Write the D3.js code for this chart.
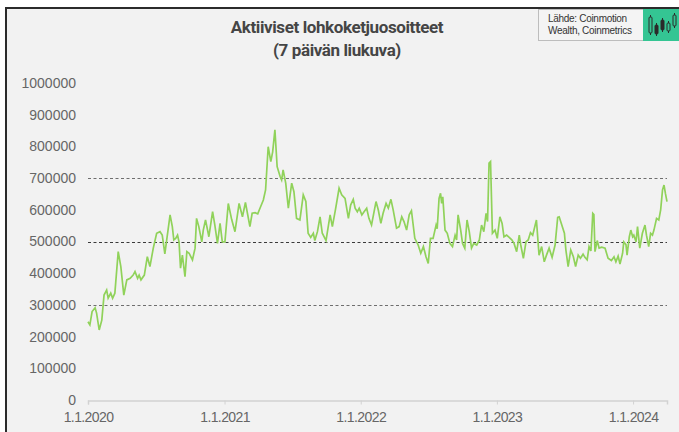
<!DOCTYPE html>
<html lang="fi">
<head>
    <meta charset="UTF-8">
    <title>Aktiiviset lohkoketjuosoitteet</title>
    <script src="https://d3js.org/d3.v7.min.js"></script>
    <style>
        body {
            margin: 0;
            background-color: #ffffff;
            font-family: "Liberation Sans", Arial, sans-serif;
        }
        svg {
            display: block;
        }
        .title {
            font-family: Roboto, "Liberation Sans", sans-serif;
            font-weight: bold;
            font-size: 17px;
            fill: #454545;
        }
        .tick text {
            font-size: 14px;
            fill: #666;
        }
        .line {
            fill: none;
            stroke: #90d25a;
            stroke-width: 1.7px;
        }
    </style>
</head>
<body>
    <svg width="679" height="432"></svg>
    <script>
        // aktiiviset osoitteet, 7 päivän liukuva keskiarvo (luettu kuvasta)
        const dates = [
            "2020-01-01","2020-01-06","2020-01-12","2020-01-20","2020-01-24","2020-01-31","2020-02-07","2020-02-13",
            "2020-02-20","2020-02-24","2020-03-02","2020-03-07","2020-03-13","2020-03-22","2020-03-29","2020-04-06",
            "2020-04-14","2020-04-23","2020-05-01","2020-05-06","2020-05-13","2020-05-17","2020-05-22","2020-05-31",
            "2020-06-08","2020-06-15","2020-06-24","2020-07-03","2020-07-12","2020-07-18","2020-07-25","2020-07-30",
            "2020-08-08","2020-08-14","2020-08-18","2020-08-23","2020-08-28","2020-09-01","2020-09-05","2020-09-10",
            "2020-09-17","2020-09-22","2020-09-28","2020-10-07","2020-10-14","2020-10-18","2020-10-24","2020-11-01",
            "2020-11-05","2020-11-11","2020-11-20","2020-11-30","2020-12-06","2020-12-13","2020-12-20","2020-12-26",
            "2021-01-02","2021-01-11","2021-01-20","2021-01-29","2021-02-09","2021-02-18","2021-02-26","2021-03-10",
            "2021-03-16","2021-03-24","2021-03-31","2021-04-06","2021-04-15","2021-04-21","2021-04-28","2021-05-05",
            "2021-05-10","2021-05-16","2021-05-22","2021-05-30","2021-06-03","2021-06-07","2021-06-14","2021-06-21",
            "2021-06-30","2021-07-06","2021-07-13","2021-07-22","2021-07-31","2021-08-07","2021-08-13","2021-08-20",
            "2021-08-27","2021-08-31","2021-09-07","2021-09-14","2021-09-20","2021-09-30","2021-10-11","2021-10-17",
            "2021-10-26","2021-11-04","2021-11-11","2021-11-20","2021-11-29","2021-12-05","2021-12-12","2021-12-17",
            "2021-12-23","2021-12-28","2022-01-04","2022-01-10","2022-01-17","2022-01-23","2022-01-30","2022-02-11",
            "2022-02-17","2022-02-24","2022-03-02","2022-03-10","2022-03-16","2022-03-23","2022-03-29","2022-04-07",
            "2022-04-14","2022-04-21","2022-04-27","2022-05-04","2022-05-11","2022-05-17","2022-05-26","2022-06-04",
            "2022-06-11","2022-06-18","2022-06-25","2022-07-01","2022-07-07","2022-07-14","2022-07-22","2022-07-25",
            "2022-07-30","2022-08-03","2022-08-06","2022-08-09","2022-08-15","2022-08-21","2022-08-28","2022-09-04",
            "2022-09-11","2022-09-15","2022-09-19","2022-09-26","2022-10-01","2022-10-07","2022-10-13","2022-10-19",
            "2022-10-25","2022-10-31","2022-11-08","2022-11-15","2022-11-21","2022-11-27","2022-12-03","2022-12-07",
            "2022-12-11","2022-12-15","2022-12-20","2022-12-27","2023-01-02","2023-01-09","2023-01-15","2023-01-20",
            "2023-01-27","2023-02-03","2023-02-10","2023-02-16","2023-02-23","2023-03-02","2023-03-06","2023-03-13",
            "2023-03-20","2023-03-26","2023-04-01","2023-04-07","2023-04-17","2023-04-24","2023-05-01","2023-05-08",
            "2023-05-14","2023-05-21","2023-05-29","2023-06-06","2023-06-13","2023-06-17","2023-06-24","2023-07-01",
            "2023-07-05","2023-07-11","2023-07-18","2023-07-25","2023-07-31","2023-08-07","2023-08-13","2023-08-20",
            "2023-08-25","2023-08-31","2023-09-05","2023-09-10","2023-09-15","2023-09-18","2023-09-21","2023-09-27",
            "2023-10-02","2023-10-09","2023-10-18","2023-10-26","2023-11-04","2023-11-11","2023-11-16","2023-11-22",
            "2023-11-27","2023-12-04","2023-12-07","2023-12-13","2023-12-16","2023-12-22","2023-12-26","2023-12-31",
            "2024-01-03","2024-01-09","2024-01-13","2024-01-19","2024-01-26","2024-02-02","2024-02-06","2024-02-12",
            "2024-02-17","2024-02-22","2024-02-26","2024-03-04","2024-03-10","2024-03-15","2024-03-20","2024-03-24",
            "2024-03-28","2024-04-01"
        ];
        const addresses = [
            247000,237000,279000,291000,274000,221000,252000,331000,
            347000,321000,337000,321000,337000,468000,421000,331000,
            379000,384000,394000,405000,384000,394000,379000,394000,
            452000,421000,479000,526000,531000,520000,461000,505000,
            584000,547000,505000,510000,520000,499000,416000,457000,
            389000,468000,463000,442000,479000,573000,547000,499000,
            536000,568000,515000,594000,552000,494000,557000,499000,
            499000,620000,570000,531000,620000,578000,623000,547000,
            589000,591000,587000,605000,631000,663000,799000,752000,
            783000,852000,736000,705000,694000,726000,684000,605000,
            684000,657000,573000,568000,647000,626000,526000,513000,
            526000,503000,531000,578000,526000,503000,584000,547000,
            605000,668000,647000,636000,573000,615000,633000,605000,
            594000,605000,584000,594000,605000,573000,552000,626000,
            600000,557000,589000,620000,605000,633000,600000,542000,
            547000,578000,563000,536000,584000,597000,510000,489000,
            463000,484000,452000,431000,510000,510000,552000,540000,
            636000,652000,620000,641000,536000,526000,494000,484000,
            520000,505000,584000,536000,494000,479000,568000,531000,
            479000,494000,489000,505000,552000,531000,589000,563000,
            747000,752000,526000,536000,510000,578000,557000,515000,
            520000,513000,505000,494000,468000,520000,489000,447000,
            499000,505000,528000,520000,568000,457000,484000,436000,
            457000,479000,450000,489000,576000,578000,552000,526000,
            473000,421000,473000,452000,421000,457000,447000,460000,
            450000,442000,484000,470000,589000,585000,468000,503000,
            479000,482000,479000,447000,440000,452000,436000,454000,
            429000,463000,499000,490000,457000,515000,536000,515000,
            520000,499000,547000,479000,526000,552000,520000,484000,
            526000,520000,536000,573000,568000,600000,663000,678000,
            650000,626000
        ];
        const yTicks = [0, 100000, 200000, 300000, 400000, 500000, 600000, 700000, 800000, 900000, 1000000];
        const gridValues = [300000, 500000, 700000];
        const xTickDates = ["2020-01-01", "2021-01-01", "2022-01-01", "2023-01-01", "2024-01-01"];
        const titleLines = ["Aktiiviset lohkoketjuosoitteet", "(7 päivän liukuva)"];
        const sourceLines = ["Lähde: Coinmotion", "Wealth, Coinmetrics"];

        const svg = d3.select("svg"),
            width = +svg.attr("width"),
            height = +svg.attr("height");

        const parse = d3.timeParse("%Y-%m-%d");
        const data = dates.map((d, i) => ({ date: parse(d), value: addresses[i] }));

        // tausta ja kehys
        svg.append("rect")
            .attr("x", 5).attr("y", 7)
            .attr("width", width - 5).attr("height", height - 7)
            .attr("fill", "#f2f2f2");
        svg.append("path")
            .attr("d", `M6,${height} V8 H${width}`)
            .attr("fill", "none")
            .attr("stroke", "#2b2b2b")
            .attr("stroke-width", 2);

        const x = d3.scaleTime()
            .domain([parse("2020-01-01"), parse("2024-04-01")])
            .range([88, 667]);
        const y = d3.scaleLinear()
            .domain([0, 1000000])
            .range([400, 83]);

        // katkoviivat
        svg.append("g")
            .selectAll("line")
            .data(gridValues)
            .enter().append("line")
            .attr("x1", 88)
            .attr("x2", 667)
            .attr("y1", d => Math.round(y(d)) + 0.5)
            .attr("y2", d => Math.round(y(d)) + 0.5)
            .attr("stroke", d => d === 500000 ? "#3a3a3a" : "#6e6e6e")
            .attr("stroke-width", 1)
            .attr("stroke-dasharray", "3,2.5");

        // y-akseli (vain tekstit)
        const yAxis = svg.append("g")
            .attr("transform", "translate(76,0)")
            .call(d3.axisLeft(y).tickValues(yTicks).tickSize(0).tickPadding(0).tickFormat(d3.format("d")));
        yAxis.select(".domain").remove();

        // x-akseli
        const xAxis = svg.append("g")
            .attr("transform", "translate(0,400.5)")
            .call(d3.axisBottom(x)
                .tickValues(xTickDates.map(parse))
                .tickSize(4)
                .tickPadding(8)
                .tickFormat(d3.timeFormat("%-d.%-m.%Y")));
        xAxis.select(".domain").attr("stroke", "#d2d2d2").attr("stroke-width", 1.5);
        xAxis.selectAll(".tick line").attr("stroke", "#d2d2d2");
        xAxis.selectAll(".tick text").attr("fill", "#555").style("letter-spacing", "-0.6px");

        // viiva
        const line = d3.line()
            .x(d => x(d.date))
            .y(d => y(d.value))
            .curve(d3.curveLinear);
        svg.append("path")
            .datum(data)
            .attr("class", "line")
            .attr("d", line);

        // otsikko
        svg.append("g")
            .selectAll("text")
            .data(titleLines)
            .enter().append("text")
            .attr("class", "title")
            .attr("x", 337)
            .attr("y", (d, i) => 33 + i * 23)
            .attr("text-anchor", "middle")
            .style("letter-spacing", "-0.4px")
            .text(d => d);

        // lähdelaatikko
        svg.append("rect")
            .attr("x", 538.5).attr("y", 9.5)
            .attr("width", 105).attr("height", 31)
            .attr("fill", "#f4f4f4")
            .attr("stroke", "#bdbdbd");
        svg.append("g")
            .selectAll("text")
            .data(sourceLines)
            .enter().append("text")
            .attr("x", 548)
            .attr("y", (d, i) => 22 + i * 12)
            .style("font-size", "10px")
            .style("letter-spacing", "-0.3px")
            .attr("fill", "#333")
            .text(d => d);
        svg.append("rect")
            .attr("x", 643).attr("y", 9)
            .attr("width", width - 643).attr("height", 32)
            .attr("fill", "#34c593");

        // kynttilälogo
        const candles = [
            { x: 649, top: 17, bottom: 33, filled: false },
            { x: 655, top: 25, bottom: 34, filled: true },
            { x: 661, top: 20, bottom: 30, filled: true },
            { x: 667, top: 23, bottom: 31, filled: false },
            { x: 673, top: 15, bottom: 26, filled: false }
        ];
        const logo = svg.append("g");
        candles.forEach(c => {
            logo.append("line")
                .attr("x1", c.x + 1.5).attr("x2", c.x + 1.5)
                .attr("y1", c.top - 2).attr("y2", c.bottom + 2)
                .attr("stroke", "#2a2a2a");
            logo.append("rect")
                .attr("x", c.x).attr("y", c.top)
                .attr("width", 3).attr("height", c.bottom - c.top)
                .attr("rx", 1)
                .attr("fill", c.filled ? "#2a2a2a" : "#34c593")
                .attr("stroke", "#2a2a2a");
        });
    </script>
</body>
</html>
